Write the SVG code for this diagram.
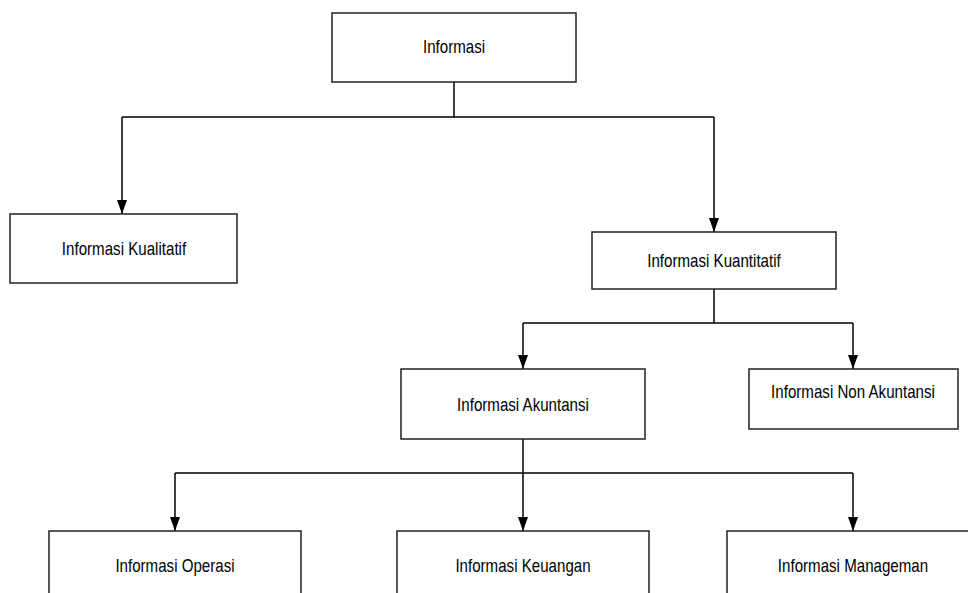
<svg xmlns="http://www.w3.org/2000/svg" width="968" height="593" viewBox="0 0 968 593">
  <style>
    .box { fill: #ffffff; stroke: #222222; stroke-width: 1.5; }
    .lbl { font-family: "Liberation Sans", Arial, sans-serif; font-size: 18px; fill: #000000; text-anchor: middle; }
    .con { fill: none; stroke: #000000; stroke-width: 1.5; }
    .arr { marker-end: url(#ah); }
  </style>
  <defs>
    <marker id="ah" viewBox="0 0 14 10" refX="14" refY="5" markerWidth="14" markerHeight="10" markerUnits="userSpaceOnUse" orient="auto">
      <path d="M0,0 L14,5 L0,10 z" fill="#000000"/>
    </marker>
  </defs>
  <rect width="968" height="593" fill="#ffffff"/>

  <g id="connectors">
    <path class="con" d="M454,82 V117"/>
    <path class="con" d="M122,117 H714"/>
    <path class="con arr" d="M122,117 V214"/>
    <path class="con arr" d="M714,117 V232"/>
    <path class="con" d="M714,289 V323"/>
    <path class="con" d="M523,323 H853"/>
    <path class="con arr" d="M523,323 V369"/>
    <path class="con arr" d="M853,323 V369"/>
    <path class="con" d="M523,439 V473"/>
    <path class="con" d="M175,473 H853"/>
    <path class="con arr" d="M175,473 V531"/>
    <path class="con arr" d="M523,473 V531"/>
    <path class="con arr" d="M853,473 V531"/>
  </g>

  <g id="informasi">
    <rect class="box" x="332" y="13" width="244" height="69"/>
    <text class="lbl" transform="translate(454,53) scale(0.84,1)">Informasi</text>
  </g>
  <g id="kualitatif">
    <rect class="box" x="10" y="214" width="227" height="69"/>
    <text class="lbl" transform="translate(124,255) scale(0.84,1)">Informasi Kualitatif</text>
  </g>
  <g id="kuantitatif">
    <rect class="box" x="592" y="232" width="244" height="57"/>
    <text class="lbl" transform="translate(714,267) scale(0.84,1)">Informasi Kuantitatif</text>
  </g>
  <g id="akuntansi">
    <rect class="box" x="401" y="369" width="244" height="70"/>
    <text class="lbl" transform="translate(523,411) scale(0.84,1)">Informasi Akuntansi</text>
  </g>
  <g id="non-akuntansi">
    <rect class="box" x="749" y="369" width="209" height="60"/>
    <text class="lbl" transform="translate(853,398) scale(0.84,1)">Informasi Non Akuntansi</text>
  </g>
  <g id="operasi">
    <rect class="box" x="49" y="531" width="252" height="80"/>
    <text class="lbl" transform="translate(175,572) scale(0.84,1)">Informasi Operasi</text>
  </g>
  <g id="keuangan">
    <rect class="box" x="397" y="531" width="252" height="80"/>
    <text class="lbl" transform="translate(523,572) scale(0.84,1)">Informasi Keuangan</text>
  </g>
  <g id="managemen">
    <rect class="box" x="727" y="531" width="252" height="80"/>
    <text class="lbl" transform="translate(853,572) scale(0.84,1)">Informasi Manageman</text>
  </g>
</svg>
